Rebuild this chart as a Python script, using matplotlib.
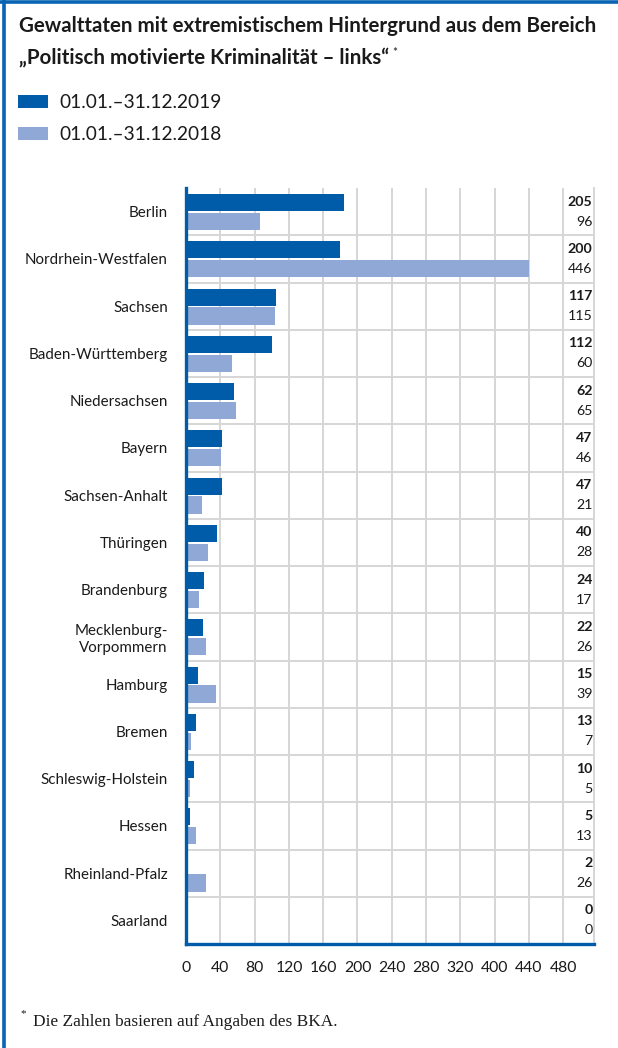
import numpy as np
import matplotlib
matplotlib.use("Agg")
import matplotlib.pyplot as plt
import matplotlib.transforms as mtrans
from matplotlib.lines import Line2D
from matplotlib.patches import Rectangle

LAENDER = ["Berlin", "Nordrhein-Westfalen", "Sachsen", "Baden-Württemberg", "Niedersachsen",
           "Bayern", "Sachsen-Anhalt", "Thüringen", "Brandenburg", "Mecklenburg-\nVorpommern",
           "Hamburg", "Bremen", "Schleswig-Holstein", "Hessen", "Rheinland-Pfalz", "Saarland"]
V2019 = [205, 200, 117, 112, 62, 47, 47, 40, 24, 22, 15, 13, 10, 5, 2, 0]
V2018 = [96, 446, 115, 60, 65, 46, 21, 28, 17, 26, 39, 7, 5, 13, 26, 0]
TICK_LABELS = ["0", "40", "80", "120", "160", "200", "240", "280", "320", "400", "440", "480"]
SERIES = ["01.01.–31.12.2019", "01.01.–31.12.2018"]
TITLE1 = "Gewalttaten mit extremistischem Hintergrund aus dem Bereich"
TITLE2 = "„Politisch motivierte Kriminalität – links“"
FOOTNOTE = "Die Zahlen basieren auf Angaben des BKA."

DARK = "#005ca8"; LIGHT = "#8fa8d6"; FRAME = "#0a64b4"; GRID = "#d6d6d6"; TXT = "#1a1a1a"
W, H = 618, 1048
SANS = ["Lato", "DejaVu Sans"]
SERIF = ["Liberation Serif", "DejaVu Serif"]


def fx(px):
    return px / W


def fy(py):
    return 1 - py / H


fig = plt.figure(figsize=(W / 100, H / 100), dpi=100)
fig.patch.set_facecolor("white")

# frame: top + left blue rule
fig.add_artist(Line2D([0, 1], [fy(2), fy(2)], color=FRAME, lw=2.6))
fig.add_artist(Line2D([fx(3.5), fx(3.5)], [0, 1], color=FRAME, lw=2.6))

# title
fig.text(fx(19), fy(32), TITLE1, family=SANS, fontweight="bold", fontsize=14.8, color=TXT, va="baseline")
t2 = fig.text(fx(19), fy(64), TITLE2, family=SANS, fontweight="bold", fontsize=14.8, color=TXT, va="baseline")
fig.canvas.draw()
bb = t2.get_window_extent()
fig.text((bb.x1 + 3) / W, fy(56), "*", family=SANS, fontsize=8.5, color=TXT, va="baseline")

# legend
for i, (lab, col) in enumerate(zip(SERIES, [DARK, LIGHT])):
    y0 = 95 + 32 * i
    fig.add_artist(Rectangle((fx(18), fy(y0 + 13)), 30 / W, 13 / H, color=col, lw=0))
    fig.text(fx(59), fy(y0 + 13), lab, family=SANS, fontsize=13.8, color=TXT, va="baseline")

# chart
ax = fig.add_axes([fx(186), fy(944), 408 / W, 756 / H])
n = len(LAENDER)
idx = np.arange(n)
ax.barh(idx + 0.307, V2019, height=0.36, color=DARK, lw=0, zorder=3)
ax.barh(idx + 0.709, V2018, height=0.36, color=LIGHT, lw=0, zorder=3)
ax.set_xlim(0, 530)
ax.set_ylim(n, 0)

ticks = np.linspace(0, 490, len(TICK_LABELS))
ax.set_xticks(ticks)
ax.set_xticklabels(TICK_LABELS, family=SANS, fontsize=11.3, color=TXT)
ax.xaxis.grid(True, color=GRID, lw=1.4, zorder=0)
ax.set_axisbelow(True)
ax.hlines(np.arange(1, n), 0, 530, color=GRID, lw=1.4, zorder=1)

ax.set_yticks(idx + 0.5)
ax.set_yticklabels(LAENDER, family=SANS, fontsize=10.9, color=TXT, linespacing=1.2)
ax.tick_params(axis="both", length=0)
ax.tick_params(axis="x", pad=12)
ax.tick_params(axis="y", pad=13)

ax.spines["top"].set_visible(False)
ax.spines["right"].set_color(GRID)
ax.spines["right"].set_linewidth(1.4)
for s in ("left", "bottom"):
    ax.spines[s].set_color(DARK)
    ax.spines[s].set_linewidth(2.4)
    ax.spines[s].set_zorder(5)

# value column on the right
tr = mtrans.blended_transform_factory(ax.transAxes, ax.transData)
for i in range(n):
    ax.text(0.9965, i + 0.29, str(V2019[i]), transform=tr, ha="right", va="center",
            family=SANS, fontweight="bold", fontsize=10.2, color=TXT)
    ax.text(0.9965, i + 0.71, str(V2018[i]), transform=tr, ha="right", va="center",
            family=SANS, fontsize=10.2, color=TXT)

# footnote
fig.text(fx(20), fy(1016), "*", family=SERIF, fontsize=8, color=TXT, va="baseline")
fig.text(fx(33), fy(1026), FOOTNOTE, family=SERIF, fontsize=12.4, color=TXT, va="baseline")

fig.savefig("out.png", dpi=100, facecolor="white")
